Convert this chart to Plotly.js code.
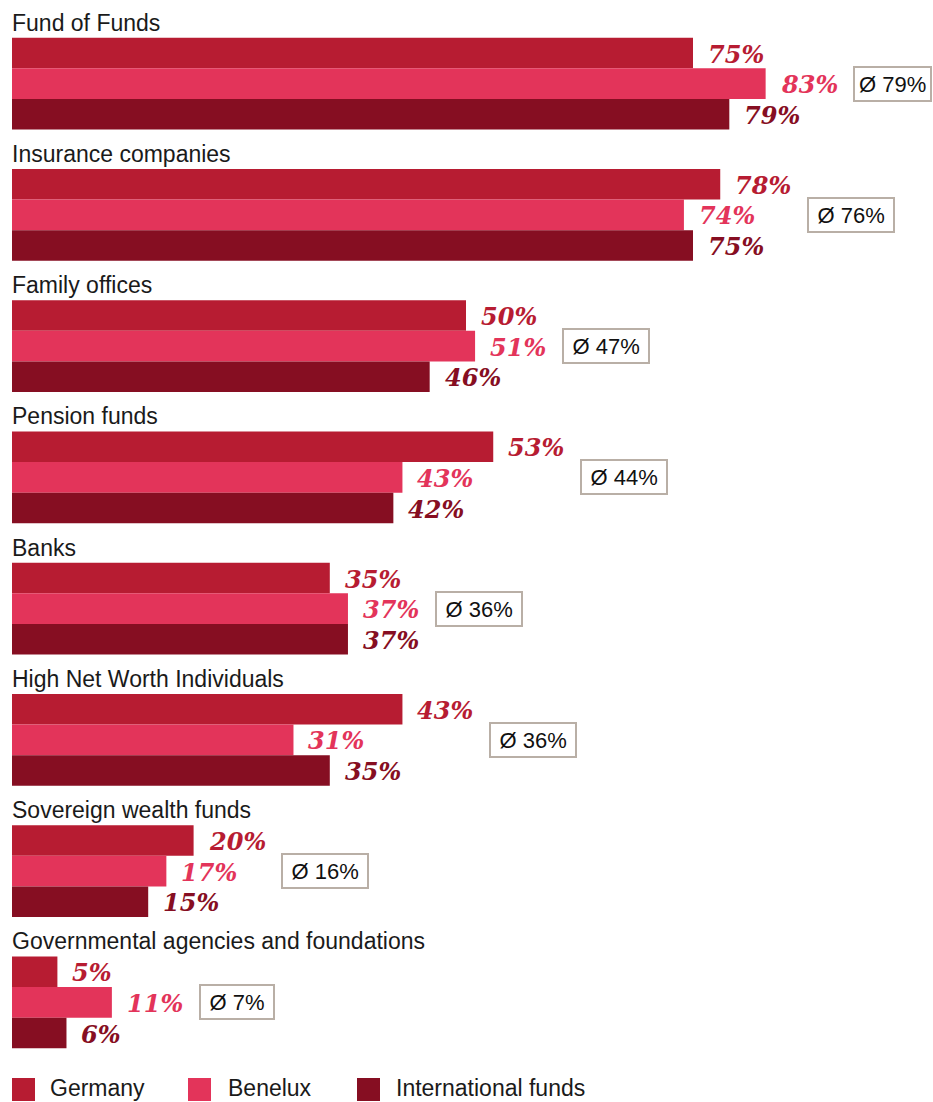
<!DOCTYPE html>
<html>
<head>
<meta charset="utf-8">
<script src="https://cdn.plot.ly/plotly-3.0.1.min.js"></script>
<style>html,body{margin:0;padding:0;background:#fff;}#chart{width:933px;height:1102px;}</style>
</head>
<body>
<div id="chart"></div>
<script>
const categories = ['Fund of Funds', 'Insurance companies', 'Family offices', 'Pension funds', 'Banks', 'High Net Worth Individuals', 'Sovereign wealth funds', 'Governmental agencies and foundations'];
const germany = [75, 78, 50, 53, 35, 43, 20, 5];
const benelux = [83, 74, 51, 43, 37, 31, 17, 11];
const international = [79, 75, 46, 42, 37, 35, 15, 6];
const averages = [79, 76, 47, 44, 36, 36, 16, 7];
const seriesNames = ['Germany', 'Benelux', 'International funds'];
const seriesColors = ['#B71C32', '#E3345A', '#860E22'];

const W = 933, H = 1102;
const M = {l: 12, r: 13, t: 18, b: 34};
const plotW = W - M.l - M.r, plotH = H - M.t - M.b;
const px2paperX = p => (p - M.l) / plotW;
const px2paperY = p => (H - M.b - p) / plotH;

const BARGAP = 0.3;
const barW = (1 - BARGAP) / 3;
const yIdx = categories.map((_, i) => i);
const series = [germany, benelux, international];

const traces = series.map((vals, k) => ({
  type: 'bar', orientation: 'h',
  x: vals, y: yIdx, name: seriesNames[k],
  marker: {color: seriesColors[k], line: {width: 0}},
  hoverinfo: 'skip', showlegend: false
}));

const annotations = [];
const shapes = [];
const sans = 'Liberation Sans, Arial, sans-serif';
const ctx = document.createElement('canvas').getContext('2d');
ctx.font = '22px "Liberation Sans", Arial, sans-serif';

// category labels
categories.forEach((c, i) => {
  annotations.push({
    x: 0, y: i - (1 - BARGAP) / 2, xref: 'x', yref: 'y',
    xanchor: 'left', yanchor: 'bottom', yshift: 0, xshift: -2,
    text: c, showarrow: false,
    font: {family: sans, size: 23, color: '#1a1a1a'}
  });
});
// value labels
series.forEach((vals, k) => {
  vals.forEach((v, i) => {
    annotations.push({
      x: v, y: i - (1 - BARGAP) / 2 + (k + 0.5) * barW, xref: 'x', yref: 'y',
      xanchor: 'left', yanchor: 'middle', xshift: 13, yshift: -1,
      text: v + '%', showarrow: false,
      font: {family: 'DejaVu Serif, serif', size: 24, color: seriesColors[k], weight: 'bold', style: 'italic'}
    });
  });
});
// average boxes
const BOX_SHIFT = 87;
averages.forEach((a, i) => {
  const mx = Math.max(germany[i], benelux[i], international[i]);
  const label = 'Ø ' + a + '%';
  const leftPx = M.l + mx * plotW / 100 + BOX_SHIFT;
  const textW = Math.min(ctx.measureText(label).width + 13, W - 1 - leftPx - 8);
  annotations.push({
    x: mx, y: i, xref: 'x', yref: 'y',
    xanchor: 'left', yanchor: 'middle', xshift: BOX_SHIFT,
    width: textW, height: 28, align: 'center', valign: 'middle',
    text: label, showarrow: false,
    font: {family: sans, size: 22, color: '#111'},
    bgcolor: '#ffffff', bordercolor: '#b9afa6', borderwidth: 2, borderpad: 2
  });
});
// legend
const legendSquareX = [12, 188, 357];
const legendTextX = [50, 228, 396];
seriesNames.forEach((n, k) => {
  shapes.push({
    type: 'rect', xref: 'paper', yref: 'paper',
    x0: px2paperX(legendSquareX[k]), x1: px2paperX(legendSquareX[k] + 23),
    y0: px2paperY(1078), y1: px2paperY(1101),
    fillcolor: seriesColors[k], line: {width: 0}
  });
  annotations.push({
    xref: 'paper', yref: 'paper', x: px2paperX(legendTextX[k]), y: px2paperY(1102),
    xanchor: 'left', yanchor: 'bottom', xshift: -2, yshift: -1, text: n, showarrow: false,
    font: {family: sans, size: 23, color: '#1a1a1a'}
  });
});

const layout = {
  width: W, height: H,
  margin: M,
  paper_bgcolor: '#fff', plot_bgcolor: '#fff',
  barmode: 'group', bargap: BARGAP, bargroupgap: 0,
  xaxis: {range: [0, 100], visible: false, fixedrange: true},
  yaxis: {range: [categories.length - 0.5, -0.5], visible: false, fixedrange: true},
  showlegend: false,
  annotations: annotations,
  shapes: shapes
};

Plotly.newPlot('chart', traces, layout, {displayModeBar: false, staticPlot: true});
</script>
</body>
</html>
